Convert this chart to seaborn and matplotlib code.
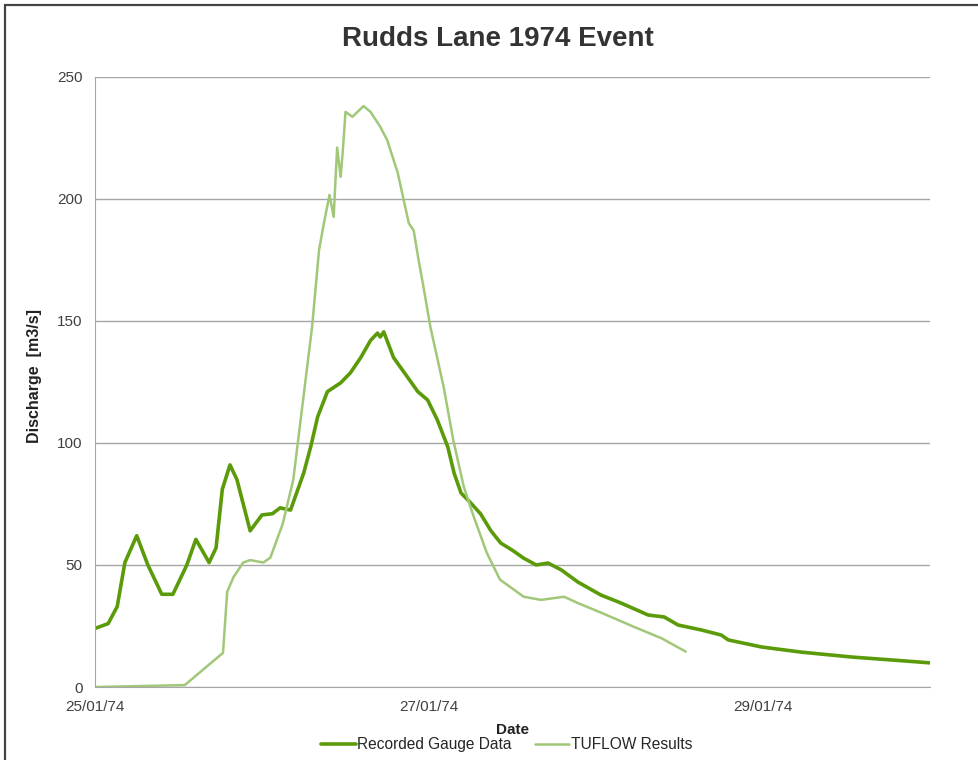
import numpy as np
import pandas as pd
import matplotlib.pyplot as plt
import matplotlib.dates as mdates
from matplotlib.lines import Line2D
import seaborn as sns

# === Data (hours after 25/01/74 00:00, discharge m3/s) ===
gauge_hours = [0.0, 1.9, 3.2, 4.3, 6.0, 7.6, 9.6, 11.2, 13.2, 14.5, 16.4, 17.4, 18.3,
               19.4, 20.4, 22.3, 24.0, 25.5, 26.6, 28.1, 30.0, 31.0, 32.0, 33.4,
               35.3, 36.7, 38.2, 39.6, 40.6, 41.0, 41.5, 42.9, 44.9, 46.4, 47.8,
               49.2, 50.7, 51.6, 52.6, 54.0, 55.4, 56.9, 58.3, 60.0, 61.6, 63.4,
               65.1, 67.0, 69.4, 72.7, 75.6, 79.5, 81.8, 83.8, 87.1, 90.0, 91.0,
               95.8, 101.5, 108.7, 114.9, 120.0]
gauge_vals = [24, 26, 33, 51, 62, 50, 38, 38, 50, 60.5, 51, 57, 81,
              91, 85, 64, 70.5, 71, 73.4, 72.5, 87.7, 98.4, 110.7, 121,
              124.6, 128.7, 135, 142, 145, 143.4, 145.5, 135, 127, 121, 117.6,
              109.4, 98.4, 87.7, 79.5, 75.4, 71, 64, 59, 56, 52.8, 50,
              50.8, 48, 43, 37.7, 34.4, 29.5, 28.7, 25.4, 23.4, 21.3, 19.3,
              16.4, 14.3, 12.3, 11, 9.9]

tuflow_hours = [0.0, 12.9, 18.4, 19.0, 19.9, 21.3, 22.3, 24.2, 25.2, 27.0, 28.5,
                31.2, 32.2, 32.8, 33.7, 34.3, 34.8, 35.3, 35.6, 36.0, 37.0, 38.6,
                39.6, 41.0, 42.0, 43.5, 45.1, 45.8, 46.5, 47.2, 48.2, 50.1, 51.5,
                53.0, 54.4, 56.3, 58.2, 61.6, 64.1, 67.4, 69.4, 72.7, 77.5, 81.4, 84.9]
tuflow_vals = [0, 0.8, 14, 39, 45, 51, 52, 51, 53, 67, 85,
               147.5, 179, 188.5, 201.6, 192.6, 221, 209, 219, 235.6, 233.6, 238,
               235.6, 229.5, 224, 210.7, 190, 187, 175, 164, 147.5, 123, 101,
               82, 70, 55, 44, 37, 35.7, 37, 34.4, 30.5, 24.6, 20, 14.5]

start = pd.Timestamp("1974-01-25")
df_gauge = pd.DataFrame({"Date": start + pd.to_timedelta(gauge_hours, unit="h"),
                         "Discharge": gauge_vals})
df_tuflow = pd.DataFrame({"Date": start + pd.to_timedelta(tuflow_hours, unit="h"),
                          "Discharge": tuflow_vals})

sns.set_style("white")
plt.rcParams['font.family'] = ['Liberation Sans', 'DejaVu Sans']

fig = plt.figure(figsize=(9.79, 7.6), dpi=100)
ax = fig.add_axes([0.097, 0.096, 0.853, 0.803])

sns.lineplot(data=df_gauge, x="Date", y="Discharge", ax=ax, color="#5b9b0a",
             linewidth=2.6, label="Recorded Gauge Data")
sns.lineplot(data=df_tuflow, x="Date", y="Discharge", ax=ax, color="#a0c878",
             linewidth=1.8, label="TUFLOW Results")

ax.set_xlim(start, pd.Timestamp("1974-01-30"))
ax.set_ylim(0, 250)
ax.set_yticks([0, 50, 100, 150, 200, 250])
ax.xaxis.set_major_locator(mdates.DayLocator(bymonthday=[25, 27, 29]))
ax.xaxis.set_major_formatter(mdates.DateFormatter("%d/%m/%y"))
ax.grid(axis="y", color="#a6a6a6", linewidth=1.0)
ax.grid(axis="x", visible=False)
for s in ["top", "right"]:
    ax.spines[s].set_visible(False)
for s in ["left", "bottom"]:
    ax.spines[s].set_color("#a6a6a6")
ax.tick_params(axis="both", labelsize=11, colors="#404040", length=0)
ax.tick_params(axis="x", pad=9)
ax.tick_params(axis="y", pad=9)

ax.set_title("Rudds Lane 1974 Event", fontsize=20, fontweight="bold",
             color="#333333", pad=22, x=0.483)
ax.set_ylabel("Discharge  [m3/s]", fontsize=11.5, fontweight="bold", color="#222222")
ax.yaxis.set_label_coords(-0.063, 0.51)
ax.set_xlabel("Date", fontsize=11, fontweight="bold", color="#222222", labelpad=6.5)

ax.legend(loc="upper center", bbox_to_anchor=(0.493, -0.059), ncol=2, frameon=False,
          fontsize=11.2, handlelength=2.2, columnspacing=1.5, handletextpad=0.1)

# screenshot frame (left and top edges)
fig.add_artist(Line2D([0.005, 0.005], [0.0, 0.993], transform=fig.transFigure,
                      color="#444444", linewidth=1.6))
fig.add_artist(Line2D([0.005, 1.0], [0.993, 0.993], transform=fig.transFigure,
                      color="#444444", linewidth=1.6))

plt.savefig("out.png", dpi=100)
